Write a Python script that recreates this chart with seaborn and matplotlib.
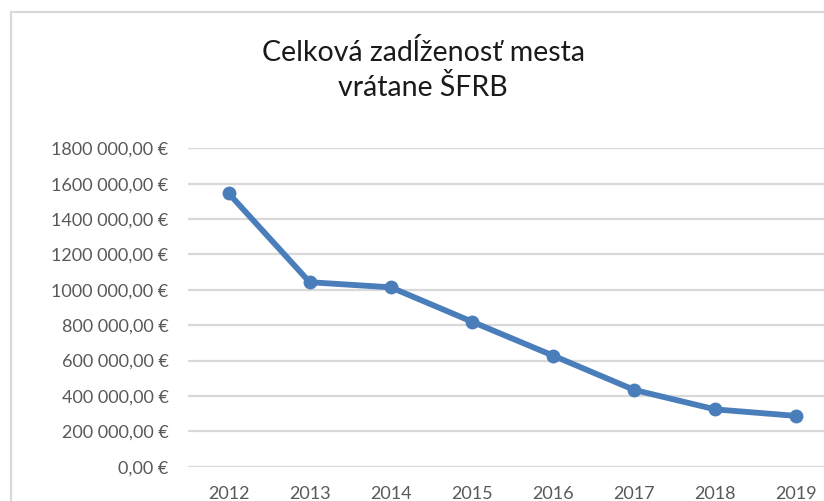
import matplotlib
matplotlib.use("Agg")
import matplotlib.pyplot as plt
import seaborn as sns
import pandas as pd
from matplotlib.patches import Rectangle
from matplotlib.ticker import FuncFormatter, MultipleLocator

years = ["2012", "2013", "2014", "2015", "2016", "2017", "2018", "2019"]
debt = [1546000, 1043000, 1014000, 820000, 628000, 434000, 324000, 287000]
title = "Celková zadĺženosť mesta\nvrátane ŠFRB"

df = pd.DataFrame({"rok": years, "dlh": debt})

sns.set_theme(style="white")
plt.rcParams["font.family"] = ["Lato", "DejaVu Sans"]

W, H = 824, 501
fig = plt.figure(figsize=(W / 100, H / 100), dpi=100)
fig.patch.set_facecolor("white")

# chart border (cropped on right and bottom)
fig.add_artist(Rectangle((10.5 / W, -0.1), 2.0, (H - 11.5) / H + 0.1,
                         transform=fig.transFigure, fill=False,
                         edgecolor="#d9d9d9", linewidth=1.6))

left, right = 188, 837
top, bottom = 148.3, 466.7
ax = fig.add_axes([left / W, 1 - bottom / H, (right - left) / W, (bottom - top) / H])
ax.set_clip_on(False)

sns.lineplot(data=df, x="rok", y="dlh", ax=ax, color="#4a7ebb", linewidth=4.2,
             marker="o", markersize=10, markeredgewidth=0, sort=False)

ax.set_xlim(-0.5, 7.5)
ax.set_ylim(0, 1800000)
ax.yaxis.set_major_locator(MultipleLocator(200000))

def fmt(v, pos):
    s = f"{v:,.2f}"
    intpart, dec = s.split(".")
    digits = intpart.replace(",", "")
    if len(digits) > 3:
        intpart = digits[:-3] + " " + digits[-3:]
    else:
        intpart = digits
    return f"{intpart},{dec} €"

ax.yaxis.set_major_formatter(FuncFormatter(fmt))
ax.grid(axis="y", color="#d9d9d9", linewidth=1.6)
ax.grid(axis="x", visible=False)
for s in ax.spines.values():
    s.set_visible(False)
ax.tick_params(axis="y", length=0, pad=14, labelsize=13, labelcolor="#595959")
ax.tick_params(axis="x", length=0, pad=14, labelsize=13, labelcolor="#595959")
ax.set_xlabel("")
ax.set_ylabel("")

fig.text(423 / W, 1 - 70 / H, title, ha="center", va="center", fontsize=20.5,
         color="#1a1a1a", linespacing=1.4)

fig.savefig("out.png", dpi=100)
